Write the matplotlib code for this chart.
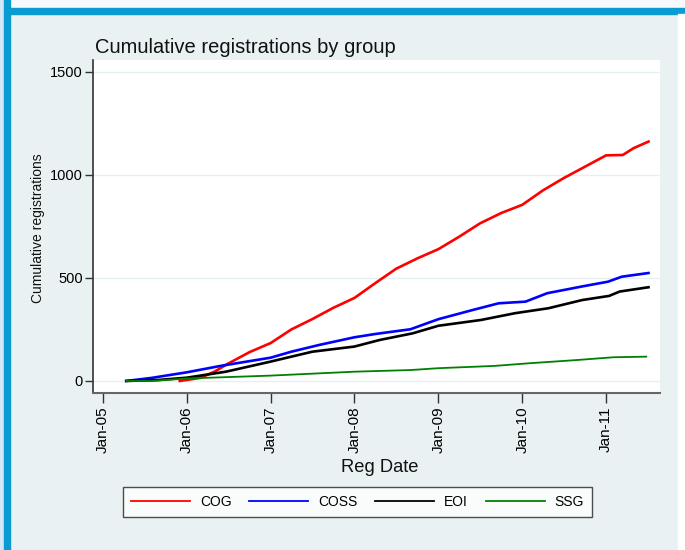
import pandas as pd
import matplotlib
matplotlib.use("Agg")
import matplotlib.pyplot as plt
import matplotlib.dates as mdates
from matplotlib.patches import Rectangle

plt.rcParams['font.family'] = ['Liberation Sans', 'DejaVu Sans']

# cumulative registrations
cog_dates = ["2005-12-01", "2006-01-01", "2006-03-01", "2006-05-01", "2006-07-01",
             "2006-10-01", "2007-01-01", "2007-04-01", "2007-07-01", "2007-10-01",
             "2008-01-01", "2008-04-01", "2008-07-01", "2008-10-01", "2009-01-01",
             "2009-04-01", "2009-07-01", "2009-10-01", "2010-01-01", "2010-04-01",
             "2010-07-01", "2010-10-01", "2011-01-01", "2011-03-15", "2011-05-01",
             "2011-07-05"]
cog_vals = [0, 5, 15, 45, 85, 140, 184, 250, 300, 355, 403, 475, 545, 595, 640,
            700, 765, 815, 855, 925, 985, 1040, 1095, 1097, 1130, 1162]

coss_dates = ["2005-04-12", "2005-08-01", "2006-01-01", "2006-06-01", "2007-01-01",
              "2007-04-01", "2007-08-01", "2008-01-01", "2008-04-01", "2008-09-01",
              "2009-01-01", "2009-06-01", "2009-09-20", "2010-01-15", "2010-04-20",
              "2010-09-15", "2011-01-10", "2011-03-10", "2011-07-05"]
coss_vals = [0, 15, 42, 74, 113, 142, 175, 212, 228, 251, 300, 345, 377, 385, 426,
             458, 482, 506, 524]

eoi_dates = ["2005-04-12", "2005-09-01", "2006-01-01", "2006-06-20", "2007-01-01",
             "2007-07-01", "2008-01-01", "2008-04-20", "2008-09-10", "2009-01-01",
             "2009-07-05", "2009-12-01", "2010-04-25", "2010-09-20", "2011-01-15",
             "2011-03-01", "2011-07-05"]
eoi_vals = [0, 5, 16, 45, 94, 142, 167, 199, 231, 268, 296, 329, 353, 393, 413,
            434, 455]

ssg_dates = ["2005-04-12", "2005-08-01", "2006-01-01", "2007-01-01", "2008-01-01",
             "2008-09-01", "2009-01-01", "2009-09-01", "2010-02-01", "2010-09-01",
             "2011-02-01", "2011-06-25"]
ssg_vals = [0, 0, 12, 26, 45, 53, 62, 73, 86, 102, 115, 118]

groups = ["COG", "COSS", "EOI", "SSG"]
colors = ["#ff0000", "#0000ff", "#000000", "#008000"]
widths = [1.9, 1.9, 1.9, 1.3]
series = [(cog_dates, cog_vals), (coss_dates, coss_vals),
          (eoi_dates, eoi_vals), (ssg_dates, ssg_vals)]

W, H = 685, 550
bg = "#e9f1f3"
fig = plt.figure(figsize=(W / 100, H / 100), dpi=100, facecolor=bg)

# frame decorations (blue bars like the original export)
def px_rect(x, y, w, h, color):
    fig.patches.append(Rectangle((x / W, 1 - (y + h) / H), w / W, h / H,
                                 transform=fig.transFigure, color=color, zorder=0))

px_rect(0, 0, W, 8, "#f7fafc")
px_rect(0, 0, 4, H, "#d3e8f6")
px_rect(4, 0, 6, H, "#0a9bd0")
px_rect(10, 8, W - 10, 6, "#0a9bd0")
px_rect(678, 14, 7, H - 14, "#ffffff")

ax = fig.add_axes([92.5 / W, 1 - 392.5 / H, (660 - 92.5) / W, (392.5 - 60) / H])
ax.set_facecolor("white")

for name, (d, v), c, lw in zip(groups, series, colors, widths):
    ax.plot(pd.to_datetime(d), v, color=c, lw=lw, label=name, solid_joinstyle="round")

ax.set_xlim(pd.Timestamp("2004-11-16"), pd.Timestamp("2011-08-24"))
ax.set_ylim(-56, 1558)
ax.set_yticks([0, 500, 1000, 1500])
ax.xaxis.set_major_locator(mdates.YearLocator())
ax.xaxis.set_major_formatter(mdates.DateFormatter("%b-%y"))
ax.grid(axis="y", color="#e6eff2", lw=1)
ax.set_axisbelow(True)

for s in ["top", "right"]:
    ax.spines[s].set_visible(False)
ax.spines["left"].set_color("#333333")
ax.spines["bottom"].set_color("#666666")
ax.spines["left"].set_linewidth(1.2)
ax.spines["bottom"].set_linewidth(1.5)
ax.tick_params(axis="y", length=6, width=1, color="#333333", labelsize=10.5, pad=1)
ax.tick_params(axis="x", length=7, width=1, color="#333333", labelsize=11, pad=3,
               labelrotation=90)

fig.text(95 / W, 1 - 53 / H, "Cumulative registrations by group", fontsize=14.5,
         va="baseline", ha="left", color="#111111")
fig.text(38 / W, 1 - 228 / H, "Cumulative registrations", rotation=90, fontsize=10,
         va="center", ha="center", color="#111111")
fig.text(380 / W, 1 - 472 / H, "Reg Date", fontsize=13.2, va="baseline", ha="center",
         color="#111111")

leg = fig.legend(loc="center", ncol=4, bbox_to_anchor=(122.7 / W, 1 - 519.3 / H,
                 (592.3 - 122.7) / W, (519.3 - 485) / H), mode="expand",
                 fontsize=10, handlelength=4.25, handletextpad=0.7, columnspacing=1.6,
                 frameon=True, fancybox=False, borderaxespad=0, borderpad=0.6)
leg.get_frame().set_edgecolor("#222222")
leg.get_frame().set_linewidth(1)
for line in leg.get_lines():
    line.set_linewidth(1.3)

fig.savefig("out.png", dpi=100, facecolor=bg)
